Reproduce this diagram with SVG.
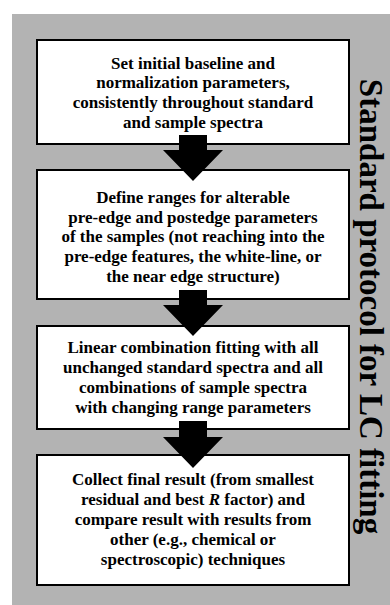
<svg xmlns="http://www.w3.org/2000/svg" width="390" height="605" viewBox="0 0 390 605">
  <defs>
    <style>
      .bg { fill: #b3b3b3; }
      .box { fill: #ffffff; stroke: #000000; stroke-width: 2; }
      .txt { font-family: "Liberation Serif", "Times New Roman", serif; font-weight: bold; font-size: 17px; fill: #000000; text-anchor: middle; }
      .title { font-family: "Liberation Serif", "Times New Roman", serif; font-weight: bold; font-size: 33px; fill: #000000; text-anchor: middle; }
      .arrow { fill: #000000; stroke: none; }
    </style>
  </defs>
  <rect class="bg" x="12" y="14" width="378" height="591"/>
  <g id="node1">
    <rect class="box" x="37" y="40" width="312" height="104"/>
    <text class="txt" x="193" y="68.5">Set initial baseline and</text>
    <text class="txt" x="193" y="88">normalization parameters,</text>
    <text class="txt" x="193" y="107.5">consistently throughout standard</text>
    <text class="txt" x="193" y="127.5">and sample spectra</text>
  </g>
  <g id="node2">
    <rect class="box" x="37" y="170" width="312" height="129"/>
    <text class="txt" x="193" y="203">Define ranges for alterable</text>
    <text class="txt" x="193" y="222.5">pre-edge and postedge parameters</text>
    <text class="txt" x="193" y="242">of the samples (not reaching into the</text>
    <text class="txt" x="193" y="262">pre-edge features, the white-line, or</text>
    <text class="txt" x="193" y="281.5">the near edge structure)</text>
  </g>
  <g id="node3">
    <rect class="box" x="37" y="326" width="312" height="103"/>
    <text class="txt" x="193" y="353">Linear combination fitting with all</text>
    <text class="txt" x="193" y="373">unchanged standard spectra and all</text>
    <text class="txt" x="193" y="393">combinations of sample spectra</text>
    <text class="txt" x="193" y="413">with changing range parameters</text>
  </g>
  <g id="node4">
    <rect class="box" x="37" y="455" width="312" height="130"/>
    <text class="txt" x="193" y="485">Collect final result (from smallest</text>
    <text class="txt" x="193" y="505">residual and best <tspan font-style="italic">R</tspan> factor) and</text>
    <text class="txt" x="193" y="525">compare result with results from</text>
    <text class="txt" x="193" y="545">other (e.g., chemical or</text>
    <text class="txt" x="193" y="565">spectroscopic) techniques</text>
  </g>
  <g id="connectors">
    <polygon class="arrow" points="179,135 207,135 207,150 223,150 193,181 163,150 179,150"/>
    <polygon class="arrow" points="179,290 207,290 207,305 223,305 193,336 163,305 179,305"/>
    <polygon class="arrow" points="179,421 207,421 207,437 223,437 193,468 163,437 179,437"/>
  </g>
  <g id="title">
    <text class="title" transform="translate(360,306.5) rotate(90)">Standard protocol for LC fitting</text>
  </g>
</svg>
